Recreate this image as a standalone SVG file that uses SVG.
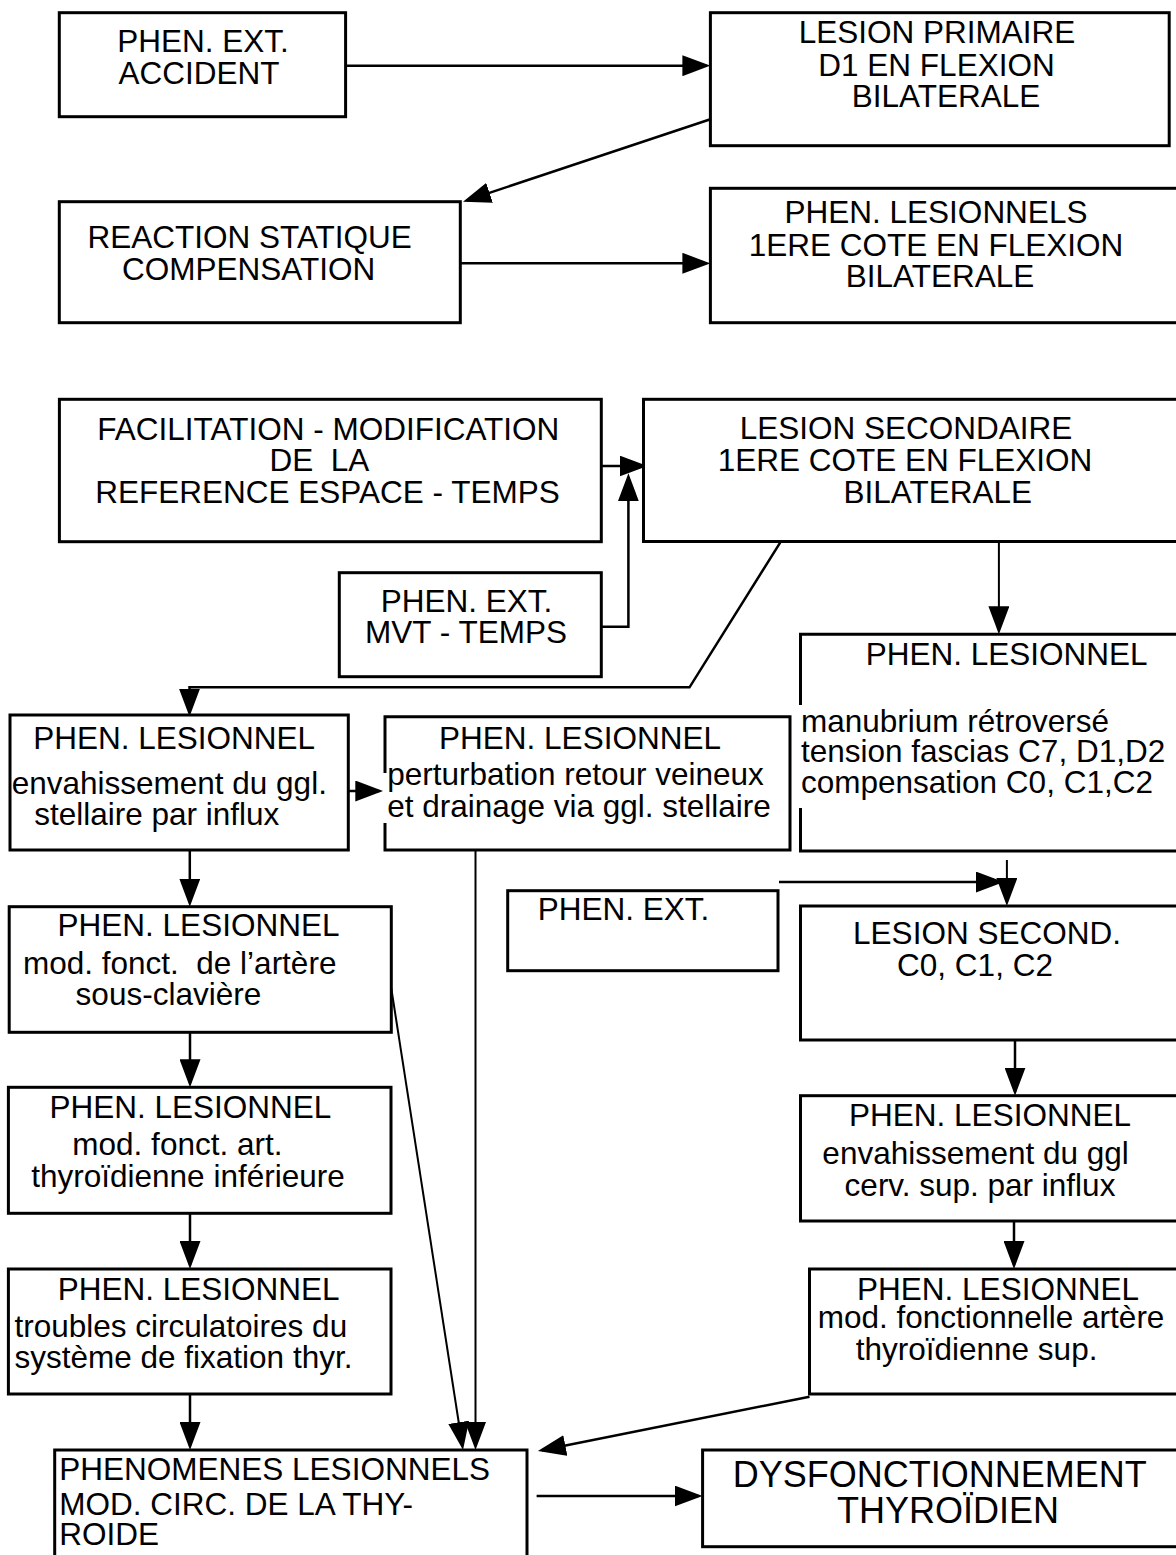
<svg xmlns="http://www.w3.org/2000/svg" width="1176" height="1555" viewBox="0 0 1176 1555">
  <style>
    .box { fill: #ffffff; stroke: #000000; stroke-width: 3; }
    .t { font-family: "Liberation Sans", Arial, Helvetica, sans-serif; font-size: 31.5px; fill: #000000; }
    .c { text-anchor: middle; }
    .big { font-size: 36px; }
    .wire { fill: none; stroke: #000000; stroke-width: 2.5; marker-end: url(#ah); }
    .thin { stroke-width: 2; }
  </style>
  <defs>
    <marker id="ah" markerUnits="userSpaceOnUse" markerWidth="28" markerHeight="21" refX="24" refY="10.5" orient="auto">
      <path d="M0,0 L28,10.5 L0,21 z" fill="#000000"/>
    </marker>
  </defs>
  <rect width="1176" height="1555" fill="#ffffff"/>

  <g id="connectors">
    <path class="wire" d="M345.6,65.7 H706.4"/>
    <path class="wire" d="M710.4,119.3 L466.8,200.4"/>
    <path class="wire" d="M460.3,263.3 H706.4"/>
    <path class="wire" d="M601.3,466 H643.5"/>
    <path class="wire" d="M601.3,626.7 H628.4 V477.3"/>
    <path class="wire" d="M780.3,542.3 L689.5,687.3 H189.5 V712.7"/>
    <path class="wire" d="M348.5,791 H379.3"/>
    <path class="wire thin" d="M998.9,541.7 V630.3"/>
    <path class="wire" d="M189.8,850 V902.7"/>
    <path class="wire" d="M190,1032.3 V1083.3"/>
    <path class="wire" d="M190,1213.3 V1265"/>
    <path class="wire" d="M190,1394 V1446"/>
    <path class="wire thin" d="M391.3,988.3 L462.4,1446"/>
    <path class="wire thin" d="M475.5,850 V1446"/>
    <path class="wire" d="M779,882 H999.8"/>
    <path class="wire thin" d="M1006.9,860 V902"/>
    <path class="wire" d="M1015,1040 V1091.7"/>
    <path class="wire" d="M1014,1221 V1265"/>
    <path class="wire" d="M809.5,1396.7 L541.8,1450.2"/>
    <path class="wire" d="M536.6,1496 H698.6"/>
  </g>

  <g id="accident">
    <rect class="box" x="59.3" y="12.7" width="286.3" height="104"/>
    <text class="t c" x="203" y="51.7">PHEN. EXT.</text>
    <text class="t c" x="199" y="84">ACCIDENT</text>
  </g>

  <g id="lesion-primaire">
    <rect class="box" x="710.4" y="12.7" width="458.8" height="133"/>
    <text class="t c" x="937" y="43.3">LESION PRIMAIRE</text>
    <text class="t c" x="936.5" y="76">D1 EN FLEXION</text>
    <text class="t c" x="946" y="107.3">BILATERALE</text>
  </g>

  <g id="reaction-statique">
    <rect class="box" x="59.3" y="201.7" width="401" height="121"/>
    <text class="t c" x="249.7" y="248.3">REACTION STATIQUE</text>
    <text class="t c" x="248.7" y="280">COMPENSATION</text>
  </g>

  <g id="phen-lesionnels-cote">
    <rect class="box" x="710.4" y="188.3" width="470" height="134.4"/>
    <text class="t c" x="936" y="223.3">PHEN. LESIONNELS</text>
    <text class="t c" x="936" y="256">1ERE COTE EN FLEXION</text>
    <text class="t c" x="940" y="287.3">BILATERALE</text>
  </g>

  <g id="facilitation">
    <rect class="box" x="59.4" y="399.3" width="541.9" height="142.4"/>
    <text class="t c" x="328.3" y="440">FACILITATION - MODIFICATION</text>
    <text class="t c" x="319.5" y="471.2">DE&#160; LA</text>
    <text class="t c" x="327.5" y="502.7">REFERENCE ESPACE - TEMPS</text>
  </g>

  <g id="mvt-temps">
    <rect class="box" x="339.3" y="572.7" width="262" height="104"/>
    <text class="t c" x="466.5" y="611.7">PHEN. EXT.</text>
    <text class="t c" x="466" y="643.3">MVT - TEMPS</text>
  </g>

  <g id="lesion-secondaire">
    <rect class="box" x="643.5" y="399.3" width="536.5" height="142.2"/>
    <text class="t c" x="906" y="439">LESION SECONDAIRE</text>
    <text class="t c" x="905" y="470.7">1ERE COTE EN FLEXION</text>
    <text class="t c" x="937.7" y="502.7">BILATERALE</text>
  </g>

  <g id="manubrium">
    <path class="box" d="M800.5,705 V634.3 H1180 V851 H800.5 V808"/>
    <text class="t c" x="1006.7" y="665">PHEN. LESIONNEL</text>
    <text class="t" x="801" y="731.7">manubrium rétroversé</text>
    <text class="t" x="801" y="762.3">tension fascias C7, D1,D2</text>
    <text class="t" x="801" y="793.3">compensation C0, C1,C2</text>
  </g>

  <g id="ggl-stellaire">
    <rect class="box" x="10" y="715" width="338.3" height="135"/>
    <text class="t c" x="174.2" y="749">PHEN. LESIONNEL</text>
    <text class="t" x="11.7" y="794">envahissement du ggl.</text>
    <text class="t c" x="156.7" y="825">stellaire par influx</text>
  </g>

  <g id="retour-veineux">
    <path class="box" d="M385,773 V716.7 H790 V850 H385 V823"/>
    <text class="t c" x="580" y="749">PHEN. LESIONNEL</text>
    <text class="t" x="387.3" y="785">perturbation retour veineux</text>
    <text class="t" x="387.3" y="816.5">et drainage via ggl. stellaire</text>
  </g>

  <g id="artere-sous-claviere">
    <rect class="box" x="9.2" y="906.7" width="382.1" height="125.6"/>
    <text class="t c" x="198.5" y="936">PHEN. LESIONNEL</text>
    <text class="t" x="23" y="974">mod. fonct.&#160; de l’artère</text>
    <text class="t c" x="168.4" y="1005">sous-clavière</text>
  </g>

  <g id="phen-ext">
    <rect class="box" x="507.7" y="890.7" width="270.3" height="80"/>
    <text class="t c" x="623.5" y="920">PHEN. EXT.</text>
  </g>

  <g id="lesion-second">
    <rect class="box" x="800.5" y="906" width="379.5" height="134"/>
    <text class="t c" x="987" y="944">LESION SECOND.</text>
    <text class="t c" x="975" y="976">C0, C1, C2</text>
  </g>

  <g id="ggl-cerv-sup">
    <rect class="box" x="800.5" y="1095.7" width="379.5" height="125.3"/>
    <text class="t c" x="990" y="1126">PHEN. LESIONNEL</text>
    <text class="t c" x="975.6" y="1164">envahissement du ggl</text>
    <text class="t c" x="980" y="1195.7">cerv. sup. par influx</text>
  </g>

  <g id="thyroidienne-inferieure">
    <rect class="box" x="8.4" y="1087.3" width="382.6" height="126"/>
    <text class="t c" x="190.4" y="1118.3">PHEN. LESIONNEL</text>
    <text class="t c" x="177.4" y="1155">mod. fonct. art.</text>
    <text class="t c" x="188" y="1186.7">thyroïdienne inférieure</text>
  </g>

  <g id="troubles-circulatoires">
    <rect class="box" x="8.4" y="1269" width="382.6" height="125"/>
    <text class="t c" x="198.6" y="1300">PHEN. LESIONNEL</text>
    <text class="t" x="14.5" y="1336.7">troubles circulatoires du</text>
    <text class="t" x="14.5" y="1368.3">système de fixation thyr.</text>
  </g>

  <g id="thyroidienne-sup">
    <rect class="box" x="809.5" y="1269" width="370.5" height="125"/>
    <text class="t c" x="998" y="1300">PHEN. LESIONNEL</text>
    <text class="t" x="817.7" y="1328.3">mod. fonctionnelle artère</text>
    <text class="t c" x="976.6" y="1360">thyroïdienne sup.</text>
  </g>

  <g id="mod-circ-thyroide">
    <rect class="box" x="54.7" y="1450" width="472.3" height="115"/>
    <text class="t" x="59.3" y="1480">PHENOMENES LESIONNELS</text>
    <text class="t" x="59.3" y="1515">MOD. CIRC. DE LA THY-</text>
    <text class="t" x="59.3" y="1545">ROIDE</text>
  </g>

  <g id="dysfonctionnement">
    <rect class="box" x="702.6" y="1450" width="477.4" height="96.7"/>
    <text class="t c big" x="939.7" y="1486.7">DYSFONCTIONNEMENT</text>
    <text class="t c big" x="948" y="1523.3">THYROÏDIEN</text>
  </g>
</svg>
